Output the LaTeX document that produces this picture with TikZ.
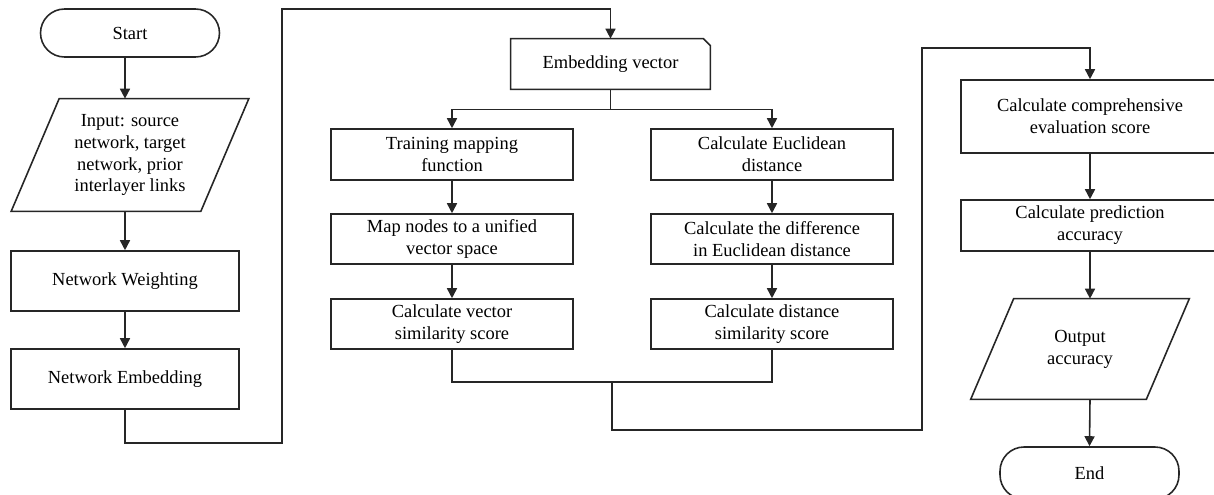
\documentclass[tikz,border=0pt]{standalone}
\usepackage{fontspec}
\setmainfont{Liberation Serif}
\usepackage{tikz}
\usetikzlibrary{positioning, calc, arrows.meta}

\begin{document}
\begin{tikzpicture}[x=0.02cm, y=-0.02cm,
  every node/.style={font=\fontsize{10.5}{12.5}\selectfont, align=center, inner sep=0pt},
  line/.style={line width=0.9pt, draw=black!85},
  arr/.style={line, -{Triangle[length=0.2cm, width=0.2cm]}},
  block/.style={line, rectangle, minimum height=1cm},
  term/.style={line, rectangle, rounded corners=0.48cm, minimum width=3.58cm, minimum height=0.96cm},
  io/.style={rectangle, draw=none}]
  % Page frame
  \useasboundingbox (0,0) rectangle (1214,494);
  \clip (0,0) rectangle (1214,494);

  % Left column
  \node[term] (start) at (130,33) {Start};
  \node[io, minimum width=3.78cm, minimum height=2.24cm] (input) at (130,155)
    {Input: source\\network, target\\network, prior\\interlayer links};
  \draw[line] ([xshift=0.48cm]input.north west) -- ([xshift=0.48cm]input.north east)
    -- ([xshift=-0.48cm]input.south east) -- ([xshift=-0.48cm]input.south west) -- cycle;
  \node[block, minimum width=4.56cm, minimum height=1.2cm] (wgt) at (125,281) {Network Weighting};
  \node[block, minimum width=4.56cm, minimum height=1.2cm] (emb) at (125,379) {Network Embedding};

  % Embedding vector (cut corner)
  \node[io, minimum width=3.98cm, minimum height=1cm] (vec) at (610.5,64) {Embedding vector};
  \draw[line] (vec.south west) -- (vec.north west) -- ([xshift=-0.14cm]vec.north east)
    -- ([yshift=-0.14cm]vec.north east) -- (vec.south east) -- cycle;

  % Middle columns
  \node[block, minimum width=4.84cm, minimum height=1.02cm] (tmf) at (452,154.5) {Training mapping\\function};
  \node[block, minimum width=4.84cm] (map) at (452,239) {Map nodes to a unified\\vector space};
  \node[block, minimum width=4.84cm] (vss) at (452,324) {Calculate vector\\similarity score};
  \node[block, minimum width=4.84cm, minimum height=1.02cm] (ced) at (772,154.5) {Calculate Euclidean\\distance};
  \node[block, minimum width=4.84cm] (cdif) at (772,239) {Calculate the difference\\in Euclidean distance};
  \node[block, minimum width=4.84cm] (dss) at (772,324) {Calculate distance\\similarity score};

  % Right column
  \node[block, minimum width=5.16cm, minimum height=1.46cm] (ces) at (1090,116.5) {Calculate comprehensive\\evaluation score};
  \node[block, minimum width=5.16cm, minimum height=1.02cm] (cpa) at (1090,225.5) {Calculate prediction\\accuracy};
  \node[io, minimum width=3.5cm, minimum height=2cm] (out) at (1080,349) {Output\\accuracy};
  \draw[line] ([xshift=0.43cm]out.north west) -- ([xshift=0.43cm]out.north east)
    -- ([xshift=-0.43cm]out.south east) -- ([xshift=-0.43cm]out.south west) -- cycle;
  \node[term, minimum height=1.04cm] (stop) at (1089.5,473) {End};

  % Arrows
  \draw[arr] (start.south -| wgt) -- (input.north -| wgt);
  \draw[arr] (input.south -| wgt) -- (wgt.north);
  \draw[arr] (wgt.south) -- (emb.north);
  \draw[arr] (emb.south) -- ++(0,33) -| (282,9) -| (vec.north);
  \draw[line] (vec.south) -- ++(0,20) coordinate (split);
  \draw[arr] (split) -| (tmf.north);
  \draw[arr] (split) -| (ced.north);
  \draw[arr] (tmf.south) -- (map.north);
  \draw[arr] (map.south) -- (vss.north);
  \draw[arr] (ced.south) -- (cdif.north);
  \draw[arr] (cdif.south) -- (dss.north);
  \draw[line] (vss.south) -- ++(0,32) coordinate (ml) -| (dss.south);
  \draw[arr] ($(ml)!0.5!(ml -| dss.south)$) -- ++(0,48) -| (922,48) -| (ces.north);
  \draw[arr] (ces.south) -- (cpa.north);
  \draw[arr] (cpa.south) -- (cpa.south |- out.north);
  \draw[arr] (out.south -| cpa.south) -- (stop.north);
\end{tikzpicture}
\end{document}
